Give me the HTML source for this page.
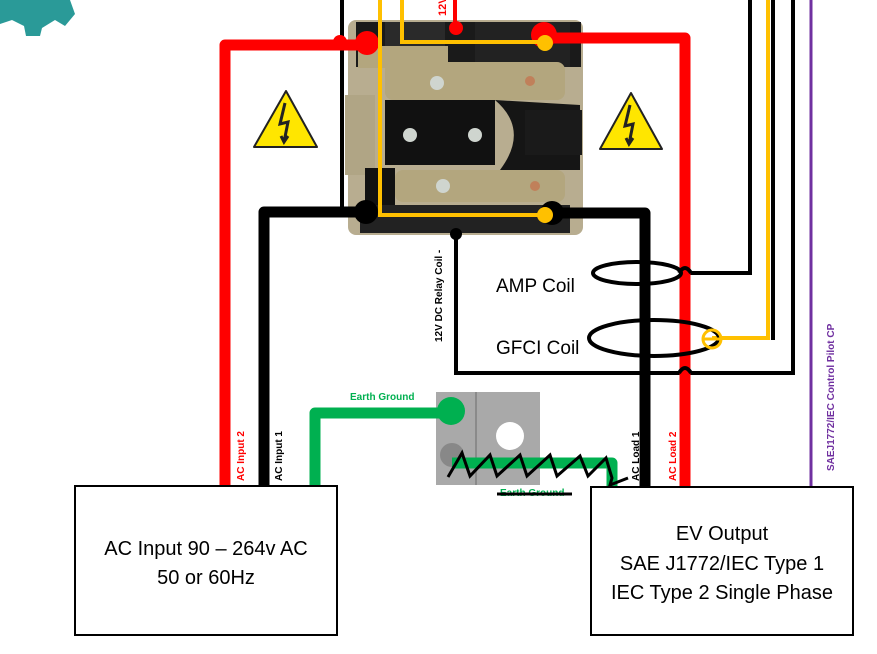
<!DOCTYPE html>
<html><head><meta charset="utf-8"><style>
html,body{margin:0;padding:0;background:#fff;}
svg{display:block;font-family:"Liberation Sans",sans-serif;}
</style></head><body>
<svg width="877" height="654" viewBox="0 0 877 654" xmlns="http://www.w3.org/2000/svg">
<path d="M0 0 L70 0 L75 14 L65 26 L55 20 L42 28 L40 36 L26 36 L24 26 L12 20 L0 24 Z" fill="#2a9a98"/>

<rect x="348" y="20" width="235" height="215" rx="8" fill="#b8ad90"/>
<rect x="356" y="22" width="225" height="45" fill="#1a1a1a"/>
<rect x="385" y="22" width="60" height="40" fill="#2a2a2a"/>
<rect x="475" y="22" width="95" height="45" fill="#222"/>
<rect x="358" y="46" width="90" height="22" fill="#b3a67e"/>
<rect x="385" y="62" width="180" height="38" rx="8" fill="#b3a67e"/>
<rect x="345" y="95" width="30" height="80" fill="#b0a585"/>
<rect x="385" y="100" width="110" height="65" fill="#111"/>
<circle cx="410" cy="135" r="7" fill="#cfd5cf"/><circle cx="475" cy="135" r="7" fill="#cfd5cf"/>
<circle cx="437" cy="83" r="7" fill="#cfd5cf"/><circle cx="530" cy="81" r="5" fill="#c0805a"/>
<path d="M495 100 Q530 130 500 170 L580 170 L580 105 Z" fill="#151515"/>
<rect x="525" y="110" width="57" height="45" fill="#1a1a1a"/>
<rect x="365" y="168" width="30" height="50" fill="#111"/>
<rect x="395" y="170" width="170" height="32" rx="8" fill="#b3a67e"/>
<circle cx="443" cy="186" r="7" fill="#cfd5cf"/><circle cx="535" cy="186" r="5" fill="#c0805a"/>
<rect x="360" y="205" width="210" height="28" fill="#222"/>

<g stroke="#222" stroke-width="2" stroke-linejoin="round">
<polygon points="286,91 317,147 254,147" fill="#ffe600"/>
<polygon points="631,93 662,149 600,149" fill="#ffe600"/>
</g>
<path d="M285 103 L280 124 L288 122 L284 142 M281 136 L284 142 L288 136" stroke="#222" stroke-width="3" fill="none"/>
<path d="M630 105 L625 126 L633 124 L629 144 M626 138 L629 144 L633 138" stroke="#222" stroke-width="3" fill="none"/>

<g fill="none" stroke="#000" stroke-width="4">
<line x1="342" y1="0" x2="342" y2="212"/>
<polyline points="680,273 750,273 750,0"/>
<line x1="773" y1="0" x2="773" y2="340"/>
<polyline points="456,235 456,373 793,373 793,0"/>
</g>
<circle cx="456" cy="234" r="6" fill="#000"/>

<line x1="811" y1="0" x2="811" y2="486" stroke="#7030a0" stroke-width="3"/>

<g fill="none" stroke="#f00" stroke-width="11" stroke-linejoin="round">
<polyline points="225,486 225,45 368,45"/>
<polyline points="545,38 685,38 685,486"/>
</g>
<line x1="455" y1="0" x2="455" y2="28" stroke="#f00" stroke-width="4"/>
<circle cx="456" cy="28" r="7" fill="#f00"/>
<circle cx="367" cy="43" r="12" fill="#f00"/>
<circle cx="340" cy="42" r="7" fill="#f00"/>
<circle cx="544" cy="35" r="13" fill="#f00"/>
<text transform="translate(446,16) rotate(-90)" font-size="11" font-weight="bold" fill="#f00">12V</text>

<g fill="none" stroke="#000" stroke-width="11" stroke-linejoin="round">
<polyline points="264,486 264,212 366,212"/>
<polyline points="552,213 645,213 645,486"/>
</g>
<circle cx="366" cy="212" r="12" fill="#000"/>
<circle cx="552" cy="213" r="12" fill="#000"/>

<g fill="none" stroke="#ffc000" stroke-width="4">
<polyline points="380,0 380,215 545,215"/>
<polyline points="402,0 402,42 545,42"/>
<polyline points="768,0 768,338 712,338"/>
</g>
<circle cx="545" cy="43" r="8" fill="#ffc000"/>
<circle cx="545" cy="215" r="8" fill="#ffc000"/>

<ellipse cx="637" cy="273" rx="44" ry="11" fill="none" stroke="#000" stroke-width="4"/>
<ellipse cx="654" cy="338" rx="65" ry="18" fill="none" stroke="#000" stroke-width="4"/>
<circle cx="712" cy="339" r="9" fill="none" stroke="#ffc000" stroke-width="3"/>
<line x1="703" y1="339" x2="721" y2="339" stroke="#ffc000" stroke-width="3"/>
<path d="M679 273 Q685 263 691 273" stroke="#000" stroke-width="4" fill="none"/>
<path d="M679 373 Q685 363 691 373" stroke="#000" stroke-width="4" fill="none"/>

<rect x="436" y="392" width="104" height="93" fill="#a9a9a9"/>
<line x1="476" y1="392" x2="476" y2="485" stroke="#8a8a8a" stroke-width="2"/>
<circle cx="510" cy="436" r="14" fill="#fff"/>
<circle cx="452" cy="455" r="12" fill="#888"/>
<g fill="none" stroke="#00b050" stroke-width="11" stroke-linejoin="round">
<polyline points="450,413 315,413 315,486"/>
<polyline points="452,463 612,463 612,486"/>
</g>
<circle cx="451" cy="411" r="14" fill="#00b050"/>
<path d="M448 477 L462 453 L470 476 L490 455 L497 476 L520 455 L527 476 L550 455 L557 476 L580 456 L588 476 L606 458 L612 478 L610 485 L628 478" fill="none" stroke="#000" stroke-width="3"/>

<text x="350" y="400" font-size="10" font-weight="bold" fill="#00b050">Earth Ground</text>
<text x="500" y="496" font-size="10" font-weight="bold" fill="#00b050">Earth Ground</text>
<line x1="497" y1="494" x2="572" y2="494" stroke="#000" stroke-width="3"/>

<text transform="translate(244,481) rotate(-90)" font-size="10" font-weight="bold" fill="#f00">AC Input 2</text>
<text transform="translate(282,481) rotate(-90)" font-size="10" font-weight="bold" fill="#000">AC Input 1</text>
<text transform="translate(639,481) rotate(-90)" font-size="10" font-weight="bold" fill="#000">AC Load 1</text>
<text transform="translate(676,481) rotate(-90)" font-size="10" font-weight="bold" fill="#f00">AC Load 2</text>
<text transform="translate(442,342) rotate(-90)" font-size="10" font-weight="bold" fill="#000">12V DC Relay Coil -</text>
<text transform="translate(834,471) rotate(-90)" font-size="10" font-weight="bold" fill="#7030a0">SAEJ1772/IEC Control Pilot CP</text>

<text x="496" y="292" font-size="19" fill="#000">AMP Coil</text>
<text x="496" y="354" font-size="19" fill="#000">GFCI Coil</text>

<rect x="75" y="486" width="262" height="149" fill="#fff" stroke="#000" stroke-width="2"/>
<rect x="591" y="487" width="262" height="148" fill="#fff" stroke="#000" stroke-width="2"/>
<g font-size="20" fill="#000" text-anchor="middle">
<text x="206" y="555">AC Input 90 – 264v AC</text>
<text x="206" y="584">50 or 60Hz</text>
<text x="722" y="540">EV Output</text>
<text x="722" y="570">SAE J1772/IEC Type 1</text>
<text x="722" y="599">IEC Type 2 Single Phase</text>
</g>
</svg>
</body></html>
